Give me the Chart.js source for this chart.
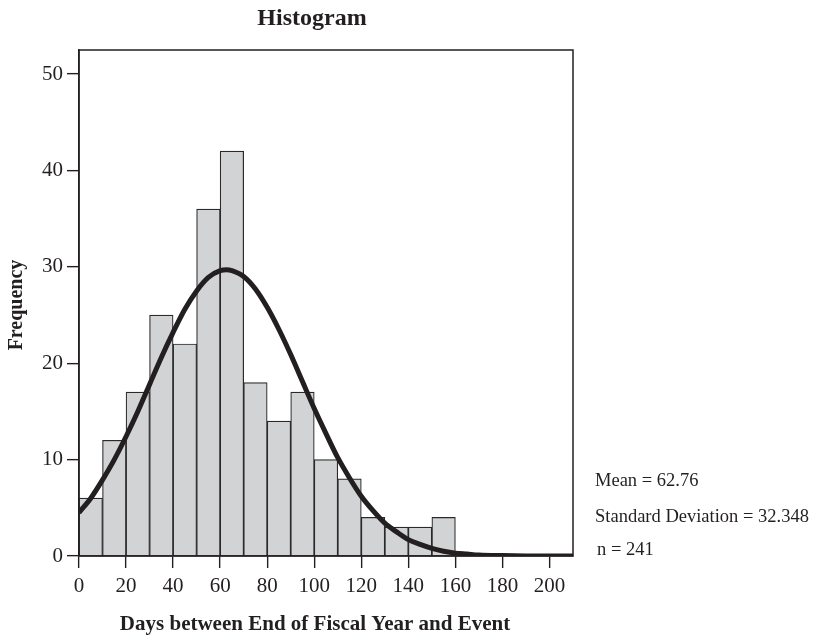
<!DOCTYPE html>
<html>
<head>
<meta charset="utf-8">
<script src="https://cdn.jsdelivr.net/npm/chart.js@4"></script>
<style>
html,body{margin:0;padding:0;background:#fff;}
#wrap{width:813px;height:636px;position:relative;}
</style>
</head>
<body>
<div id="wrap"><canvas id="c" width="813" height="636"></canvas></div>
<script>
// Histogram bins (bin centres, width 10) and frequencies
const binCenters = [5, 15, 25, 35, 45, 55, 65, 75, 85, 95, 105, 115, 125, 135, 145, 155];
const frequencies = [6, 12, 17, 25, 22, 36, 42, 18, 14, 17, 10, 8, 4, 3, 3, 4];
// Fitted curve
const curveX = [0, 5, 10, 15, 20, 25, 30, 35, 40, 45, 50, 55, 60, 62.8, 65, 70, 75, 80, 85, 90, 95, 100, 105, 110, 115, 120, 125, 130, 135, 140, 145, 150, 155, 160, 165, 170, 180, 190, 200, 210];
const curveY = [4.5, 6.0, 7.9, 10.0, 12.4, 15.0, 17.8, 20.6, 23.2, 25.6, 27.5, 28.9, 29.6, 29.7, 29.6, 29.0, 27.7, 25.8, 23.5, 20.9, 18.1, 15.3, 12.7, 10.2, 8.1, 6.2, 4.7, 3.4, 2.5, 1.7, 1.2, 0.8, 0.5, 0.3, 0.2, 0.1, 0.04, 0.01, 0, 0];
const xTicks = [0, 20, 40, 60, 80, 100, 120, 140, 160, 180, 200];
const yTicks = [0, 10, 20, 30, 40, 50];
const statsLines = ["Mean = 62.76", "Standard Deviation = 32.348", "n = 241"];
const titleText = "Histogram";
const xTitle = "Days between End of Fiscal Year and Event";
const yTitle = "Frequency";

const SERIF = '"Liberation Serif", "DejaVu Serif", serif';
const INK = '#231f20';

const annot = {
  id: 'annot',
  afterDraw(chart) {
    const ctx = chart.ctx, a = chart.chartArea;
    ctx.save();
    // frame
    ctx.strokeStyle = INK;
    ctx.lineWidth = 1.5;
    ctx.strokeRect(a.left, a.top, a.right - a.left, a.bottom - a.top);
    ctx.fillStyle = INK;
    ctx.textBaseline = 'alphabetic';
    ctx.textAlign = 'center';
    // title
    ctx.font = 'bold 24px ' + SERIF;
    ctx.fillText(titleText, 312, 25);
    // x title
    ctx.font = 'bold 21px ' + SERIF;
    ctx.fillText(xTitle, 315, 630);
    // y title
    ctx.save();
    ctx.translate(22, 305);
    ctx.rotate(-Math.PI / 2);
    ctx.font = 'bold 20px ' + SERIF;
    ctx.fillText(yTitle, 0, 0);
    ctx.restore();
    // stats
    ctx.font = '18.5px ' + SERIF;
    ctx.textAlign = 'left';
    ctx.fillText(statsLines[0], 595, 486);
    ctx.fillText(statsLines[1], 595, 522);
    ctx.fillText(statsLines[2], 597, 555);
    ctx.restore();
  }
};

new Chart(document.getElementById('c'), {
  data: {
    datasets: [
      {
        type: 'line',
        order: 0,
        data: curveX.map((x, i) => ({x: x, y: curveY[i]})),
        borderColor: INK,
        borderWidth: 5,
        pointRadius: 0,
        fill: false,
        cubicInterpolationMode: 'monotone'
      },
      {
        type: 'bar',
        order: 1,
        data: binCenters.map((x, i) => ({x: x, y: frequencies[i]})),
        backgroundColor: '#d2d3d5',
        borderColor: '#2a2a2a',
        borderWidth: 1.2,
        barPercentage: 1.0,
        categoryPercentage: 1.0,
        borderSkipped: 'bottom'
      }
    ]
  },
  options: {
    responsive: false,
    animation: false,
    devicePixelRatio: 1,
    layout: {padding: {left: 0, right: 240, top: 50, bottom: 0}},
    plugins: {legend: {display: false}, tooltip: {enabled: false}, title: {display: false}},
    scales: {
      x: {
        type: 'linear',
        min: 0, max: 210,
        offset: false,
        afterFit(s) { s.height = 80; },
        afterBuildTicks(s) { s.ticks = xTicks.map(v => ({value: v})); },
        ticks: {color: INK, font: {family: SERIF, size: 21}, padding: 6, maxRotation: 0, autoSkip: false},
        grid: {offset: false, display: true, drawOnChartArea: false, drawTicks: true, tickLength: 12, tickColor: INK, tickWidth: 1.4, color: INK, lineWidth: 1.3},
        border: {display: true, color: INK, width: 1.5}
      },
      y: {
        min: 0, max: 52.5,
        afterFit(s) { s.width = 79; },
        afterBuildTicks(s) { s.ticks = yTicks.map(v => ({value: v})); },
        ticks: {color: INK, font: {family: SERIF, size: 21}, padding: 4},
        grid: {offset: false, drawOnChartArea: false, drawTicks: true, tickLength: 12, tickColor: INK, tickWidth: 1.4, color: INK, lineWidth: 1.3},
        border: {display: true, color: INK, width: 1.5}
      }
    }
  },
  plugins: [annot]
});
</script>
</body>
</html>
